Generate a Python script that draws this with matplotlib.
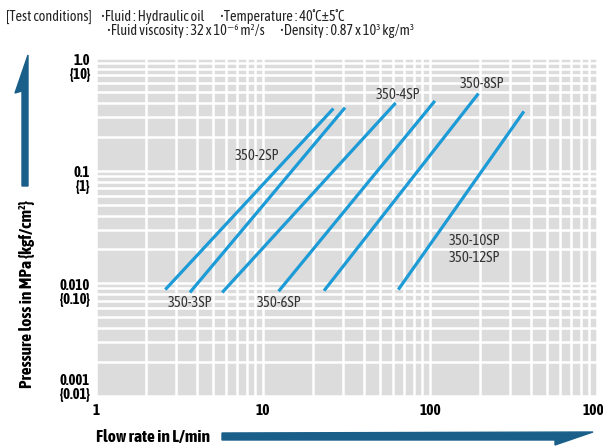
import matplotlib
matplotlib.use('Agg')
from matplotlib import pyplot as plt
from matplotlib.patches import Polygon
from matplotlib.ticker import LogLocator, NullFormatter

plt.rcParams['font.family'] = ['Asap Condensed', 'Liberation Sans', 'DejaVu Sans']

# flow rate [L/min] and pressure loss [MPa] at both ends of each line
models = ['350-2SP', '350-3SP', '350-4SP', '350-6SP', '350-8SP', '350-10SP']
flow_lo = [2.6, 3.65, 5.7, 12.4, 23.2, 64.6]
flow_hi = [26.4, 31.0, 62.3, 107, 195, 365]
dp_lo = [0.0088, 0.0083, 0.0083, 0.0085, 0.0086, 0.0088]
dp_hi = [0.356, 0.363, 0.399, 0.416, 0.484, 0.336]

# line labels (text, flow, pressure)
label_text = ['350-2SP', '350-3SP', '350-6SP', '350-4SP', '350-8SP', '350-10SP\n350-12SP']
label_x = [9.2, 3.65, 12.4, 64, 204, 184]
label_y = [0.136, 0.0067, 0.0067, 0.474, 0.586, 0.020]

x_ticks = [1, 10, 100, 1000]
y_ticks = [1.0, 0.1, 0.01, 0.001]
y_tick_labels = ['1.0\n{10}', '0.1\n{1}', '0.010\n{0.10}', '0.001\n{0.01}']

W, H = 603, 446
fig = plt.figure(figsize=(W / 100, H / 100), dpi=100)
ax = fig.add_axes([96 / W, 1 - 396 / H, 501 / W, 338 / H])
ax.set_facecolor('#dcdcdc')
ax.set_xscale('log')
ax.set_yscale('log')
ax.set_xlim(1, 1000)
ax.set_ylim(0.001, 1.0)
for a in (ax.xaxis, ax.yaxis):
    a.set_major_locator(LogLocator(base=10))
    a.set_minor_locator(LogLocator(base=10, subs=range(2, 10)))
    a.set_major_formatter(NullFormatter())
    a.set_minor_formatter(NullFormatter())
ax.tick_params(which='both', length=0)
ax.grid(which='both', color='white', lw=1.8)
ax.set_axisbelow(True)
for s in ax.spines.values():
    s.set_visible(False)

for i in range(len(models)):
    ax.plot([flow_lo[i], flow_hi[i]], [dp_lo[i], dp_hi[i]], color='#1c9bd7',
            lw=2.3, solid_capstyle='butt')

for t, x, y in zip(label_text, label_x, label_y):
    ax.text(x, y, t, ha='center', va='center', fontsize=10.5, color='#333333',
            linespacing=1.3)

# tick labels
for v in x_ticks:
    ax.annotate(str(v), xy=(v, 0), xycoords=('data', 'axes fraction'),
                xytext=(0, -6), textcoords='offset points', ha='center', va='top',
                fontsize=11, fontweight='bold', annotation_clip=False)
for v, lab in zip(y_ticks, y_tick_labels):
    dy = 16 if v == 0.001 else 3
    ax.annotate(lab, xy=(0, v), xycoords=('axes fraction', 'data'),
                xytext=(-4.5, dy), textcoords='offset points', ha='right', va='top',
                fontsize=10.5, fontweight='bold', linespacing=1.0,
                annotation_clip=False)

# header
hdr = dict(fontsize=10.3, color='#222222', va='center')
fig.text(6 / W, 1 - 17 / H, '[Test conditions]', **hdr)
fig.text(101 / W, 1 - 17 / H, '•Fluid : Hydraulic oil', **hdr)
fig.text(220 / W, 1 - 17 / H, '•Temperature : 40˚C±5˚C', **hdr)
fig.text(107 / W, 1 - 31 / H, '•Fluid viscosity : 32 x 10⁻⁶ m²/s', **hdr)
fig.text(280 / W, 1 - 31 / H, '•Density : 0.87 x 10³ kg/m³', **hdr)

# axis titles and arrows
arrow_c = '#1a5f89'
fig.text(96 / W, 1 - 437 / H, 'Flow rate in L/min', fontsize=12.5, fontweight='bold',
         va='center', ha='left')
fig.text(27 / W, 1 - 294 / H, 'Pressure loss in MPa {kgf/cm²}', fontsize=12.5,
         fontweight='bold', rotation=90, va='center', ha='center')

def px(pts):
    return [(x / W, 1 - y / H) for x, y in pts]

fig.patches.append(Polygon(px([(222, 433), (593, 432), (555, 445), (555, 440), (222, 440)]),
                           closed=True, color=arrow_c, transform=fig.transFigure))
fig.patches.append(Polygon(px([(28, 186), (28, 55), (15, 93), (22, 91), (22, 186)]),
                           closed=True, color=arrow_c, transform=fig.transFigure))

fig.savefig('out.png', dpi=100)
